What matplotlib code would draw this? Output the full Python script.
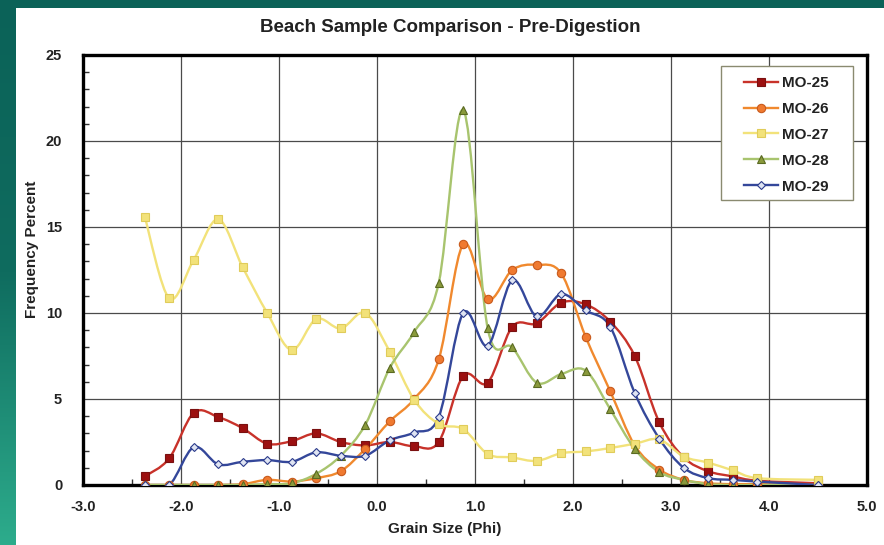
import numpy as np
import matplotlib
matplotlib.use("Agg")
import matplotlib.pyplot as plt
from matplotlib.path import Path
from matplotlib.patches import PathPatch, Rectangle
from matplotlib.colors import LinearSegmentedColormap
from matplotlib.ticker import MultipleLocator, FormatStrFormatter

plt.rcParams['font.family'] = ['Liberation Sans', 'DejaVu Sans']

# grain size (phi) for each sieve fraction
phi = [-2.37, -2.12, -1.87, -1.62, -1.37, -1.12, -0.87, -0.62, -0.37, -0.12,
       0.13, 0.38, 0.63, 0.88, 1.13, 1.38, 1.63, 1.88, 2.13, 2.38,
       2.63, 2.88, 3.13, 3.38, 3.63, 3.88, 4.5]

mo25 = [0.5, 1.55, 4.2, 3.95, 3.3, 2.4, 2.55, 3.0, 2.5, 2.3,
        2.5, 2.25, 2.5, 6.35, 5.95, 9.2, 9.4, 10.6, 10.5, 9.5,
        7.5, 3.65, 1.6, 0.8, 0.5, 0.25, 0.1]
mo26 = [0, 0, 0, 0, 0.05, 0.3, 0.2, 0.4, 0.8, 2.1,
        3.7, 5.0, 7.3, 14.0, 10.8, 12.5, 12.8, 12.3, 8.6, 5.45,
        2.3, 0.9, 0.3, 0.1, 0.05, 0.05, 0]
mo27 = [15.6, 10.85, 13.1, 15.45, 12.65, 10.0, 7.85, 9.65, 9.1, 10.0,
        7.75, 4.95, 3.55, 3.25, 1.8, 1.6, 1.4, 1.85, 1.95, 2.15,
        2.4, 2.65, 1.65, 1.3, 0.85, 0.4, 0.3]
mo28 = [0, 0, 0, 0, 0, 0.05, 0.1, 0.65, 1.7, 3.5,
        6.8, 8.9, 11.75, 21.8, 9.1, 8.0, 5.95, 6.45, 6.65, 4.4,
        2.1, 0.75, 0.3, 0.05, 0, 0, 0]
mo29 = [0, 0, 2.2, 1.2, 1.35, 1.45, 1.35, 1.9, 1.7, 1.7,
        2.6, 3.05, 3.95, 10.0, 8.1, 11.9, 9.8, 11.1, 10.15, 9.2,
        5.35, 2.7, 1.0, 0.4, 0.3, 0.2, 0]

series = [
    ("MO-25", mo25, "#c8322a", "s", "#9c1010", "#7a1010", 6),
    ("MO-26", mo26, "#f0892e", "o", "#f07a30", "#c85a1c", 6),
    ("MO-27", mo27, "#f2e27a", "s", "#f2e27a", "#e0cc5a", 6),
    ("MO-28", mo28, "#a8c46e", "^", "#8a9a3c", "#5a6a22", 6),
    ("MO-29", mo29, "#34479a", "D", "#dfe4f2", "#2c3c8c", 4.5),
]


def smooth_path(x, y):
    # Excel-style smoothed line: cubic Bezier through each point
    pts = np.column_stack([x, y])
    n = len(pts)
    verts = [pts[0]]
    codes = [Path.MOVETO]
    for i in range(n - 1):
        p0 = pts[i - 1] if i > 0 else pts[i]
        p1 = pts[i]
        p2 = pts[i + 1]
        p3 = pts[i + 2] if i + 2 < n else pts[i + 1]
        c1 = p1 + (p2 - p0) / 6.0
        c2 = p2 - (p3 - p1) / 6.0
        verts += [c1, c2, p2]
        codes += [Path.CURVE4] * 3
    return Path(verts, codes)


fig = plt.figure(figsize=(8.84, 5.45), dpi=100)
fig.patch.set_facecolor("white")

# teal frame on the left and top
band = fig.add_axes([0, 0, 16 / 884, 1])
grad = np.linspace(0, 1, 256).reshape(-1, 1)
cmap = LinearSegmentedColormap.from_list("teal", ["#0b6258", "#0f6c5f", "#2dac8c"])
band.imshow(grad, aspect="auto", cmap=cmap, extent=[0, 1, 1, 0])
band.set_axis_off()
fig.patches.append(Rectangle((0, 1 - 8 / 545), 1, 8 / 545, transform=fig.transFigure,
                             facecolor="#0b6258", edgecolor="none", zorder=0))

ax = fig.add_axes([83 / 884, 1 - 485 / 545, 784 / 884, 430 / 545])

for name, vals, lc, mk, mfc, mec, ms in series:
    ax.add_patch(PathPatch(smooth_path(phi, vals), facecolor="none", edgecolor=lc,
                           lw=1.7, zorder=3))
    ax.plot(phi, vals, linestyle="none", marker=mk, ms=ms, mfc=mfc, mec=mec,
            mew=0.8, zorder=4)
    ax.plot([], [], color=lc, lw=1.7, marker=mk, ms=ms, mfc=mfc, mec=mec,
            mew=0.8, label=name)

ax.set_xlim(-3, 5)
ax.set_ylim(0, 25)
ax.xaxis.set_major_locator(MultipleLocator(1))
ax.xaxis.set_minor_locator(MultipleLocator(0.5))
ax.yaxis.set_major_locator(MultipleLocator(5))
ax.yaxis.set_minor_locator(MultipleLocator(1))
ax.xaxis.set_major_formatter(FormatStrFormatter("%.1f"))
ax.grid(True, which="major", color="#4a4a4a", lw=0.9)
ax.set_axisbelow(True)
for s in ax.spines.values():
    s.set_linewidth(2.4)
    s.set_color("black")
ax.tick_params(which="both", direction="in", top=False, right=False)
ax.tick_params(which="major", length=0, labelsize=10.5, pad=11)
ax.tick_params(axis="y", which="major", pad=15)
ax.tick_params(which="minor", length=4, width=1, color="#333333")
for lab in ax.get_xticklabels() + ax.get_yticklabels():
    lab.set_fontweight("bold")
    lab.set_color("#222222")

ax.set_xlabel("Grain Size (Phi)", fontsize=11, fontweight="bold", color="#222222")
ax.xaxis.set_label_coords((445 - 83) / 784, -(522 - 485) / 430)
ax.set_ylabel("Frequency Percent", fontsize=11, fontweight="bold", color="#222222")
ax.yaxis.set_label_coords((39 - 83) / 784, (485 - 249) / 430)

fig.text(450 / 884, 1 - 27 / 545, "Beach Sample Comparison - Pre-Digestion",
         ha="center", va="center", fontsize=13.5, fontweight="bold", color="#222222")

# legend entries without their own frame, boxed by a rectangle like the original
leg = ax.legend(loc="upper left", bbox_to_anchor=((744 - 83) / 784, (485 - 76) / 430),
                borderaxespad=0, borderpad=0, frameon=False, handlelength=2.2,
                handletextpad=0.3, labelspacing=0.78,
                prop={"weight": "bold", "size": 11})
for t in leg.get_texts():
    t.set_color("#222222")
ax.add_patch(Rectangle(((721 - 83) / 784, (485 - 200) / 430), 132 / 784, 134 / 430,
                       transform=ax.transAxes, facecolor="white", edgecolor="#8a8a70",
                       lw=1.0, zorder=4.5))
leg.set_zorder(5)

fig.savefig("out.png", dpi=100)
